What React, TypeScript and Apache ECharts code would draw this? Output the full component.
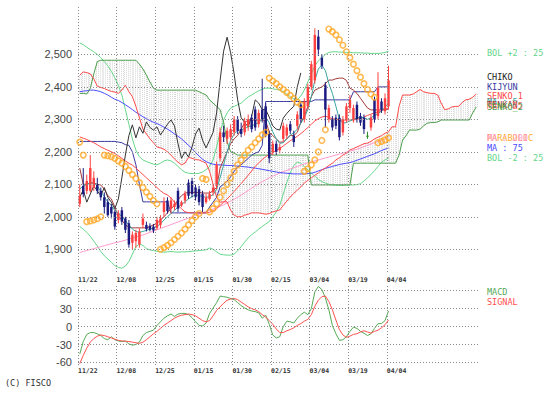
import React, { useEffect, useRef } from "react";
import * as echarts from "echarts";

const dateLabels = ["11/22", "12/08", "12/25", "01/15", "01/30", "02/15", "03/04", "03/19", "04/04"];
const dateTickIdx = [0, 11, 22, 33, 44, 55, 66, 77, 88];
const priceTicks = [1900, 2000, 2100, 2200, 2300, 2400, 2500];
const macdTicks = [-60, -30, 0, 30, 60];

const openP = [2040,2095,2080,2080,2090,2100,2080,2060,2045,2030,2015,1990,2020,1995,1980,1920,1925,1915,1975,1975,1972,1970,1965,1975,2015,2050,2025,2030,2080,2035,2050,2105,2110,2090,2085,2070,2045,2055,2075,2095,2180,2260,2240,2245,2260,2300,2270,2260,2280,2305,2330,2285,2330,2340,2255,2200,2225,2205,2240,2250,2285,2250,2280,2345,2300,2340,2400,2420,2555,2490,2405,2300,2300,2305,2305,2260,2300,2335,2300,2345,2310,2305,2250,2275,2360,2310,2355,2325,2340];
const closeP = [2065,2070,2110,2150,2120,2080,2060,2030,2005,2010,1970,2010,1985,1960,1915,1945,1950,1955,1995,1962,1960,1958,1990,1995,2045,2018,2050,2040,2025,2045,2070,2065,2070,2060,2045,2030,2060,2070,2090,2160,2260,2245,2265,2270,2300,2265,2255,2295,2300,2270,2275,2320,2300,2255,2180,2225,2200,2215,2280,2275,2265,2230,2315,2300,2355,2400,2470,2560,2515,2465,2330,2335,2275,2280,2245,2300,2340,2360,2335,2300,2290,2270,2250,2305,2300,2400,2330,2365,2420];
const lowP = [2030,2060,2070,2075,2080,2070,2050,2010,2000,1995,1960,1980,1975,1950,1905,1900,1905,1905,1965,1955,1955,1950,1960,1965,2000,2010,2010,2020,2015,2030,2040,2055,2060,2050,2035,2015,2040,2050,2065,2085,2170,2230,2225,2235,2250,2255,2245,2250,2265,2260,2265,2275,2290,2245,2165,2190,2190,2195,2230,2240,2255,2215,2270,2290,2290,2330,2390,2410,2495,2455,2275,2290,2265,2270,2235,2250,2290,2320,2290,2290,2280,2255,2240,2265,2290,2300,2320,2315,2330];
const highP = [2100,2150,2130,2190,2140,2120,2090,2075,2055,2040,2020,2020,2030,2000,1990,1955,1960,1965,2010,1985,1980,1978,2000,2005,2060,2060,2060,2050,2090,2050,2080,2115,2120,2100,2095,2080,2070,2080,2100,2170,2275,2280,2275,2285,2310,2310,2290,2305,2315,2315,2340,2330,2425,2350,2265,2235,2235,2225,2290,2285,2295,2265,2325,2355,2365,2410,2480,2580,2575,2500,2415,2345,2310,2315,2315,2310,2350,2375,2345,2355,2320,2315,2262,2315,2370,2445,2365,2380,2465];

const tenkan = [2150,2100,2100,2104,2104,2100,2098,2085,2065,2055,2030,2000,1990,1975,1968,1966,1966,1966,1966,1966,1970,1975,1980,1990,2000,2012,2025,2035,2052,2065,2073,2075,2075,2075,2075,2073,2073,2073,2080,2090,2150,2175,2200,2225,2240,2250,2270,2290,2298,2298,2298,2298,2298,2296,2260,2250,2240,2230,2230,2240,2250,2250,2260,2290,2310,2340,2370,2390,2395,2400,2410,2421,2421,2425,2427,2427,2420,2396,2390,2380,2365,2350,2335,2329,2329,2329,2329,2330,2332];
const kijun = [2232,2232,2232,2232,2232,2232,2232,2232,2232,2232,2232,2230,2228,2222,2220,2200,2160,2100,2046,2046,2046,2046,2046,2046,2046,2046,2012,2012,2012,2012,2012,2012,2012,2012,2012,2012,2012,2030,2045,2060,2092,2100,2110,2123,2140,2154,2160,2170,2180,2190,2196,2200,2220,2355,2355,2355,2355,2355,2355,2355,2355,2355,2355,2355,2355,2355,2355,2360,2360,2360,2360,2360,2360,2360,2360,2360,2360,2360,2385,2385,2385,2385,2385,2385,2385,2400,2400,2400,2400];
const senko1 = [2436,2446,2444,2440,2425,2402,2398,2395,2390,2386,2384,2380,2390,2405,2385,2370,2340,2305,2270,2255,2240,2228,2215,2212,2208,2200,2190,2178,2168,2160,2165,2183,2180,2176,2175,2170,2165,2140,2100,2060,2045,2046,2046,2020,2005,2000,2000,2005,2008,2012,2012,2012,2010,2008,2010,2015,2018,2021,2035,2048,2061,2072,2082,2092,2104,2112,2120,2128,2135,2144,2150,2158,2165,2175,2182,2190,2196,2206,2210,2215,2220,2225,2227,2232,2240,2245,2250,2257,2262,2277,2277,2340,2375,2375,2375,2378,2385,2392,2385,2382,2380,2380,2375,2350,2330,2332,2338,2340,2340,2352,2360,2362,2368,2378];
const senko2 = [2380,2380,2378,2395,2440,2478,2482,2482,2482,2482,2482,2482,2482,2482,2482,2482,2482,2470,2455,2436,2415,2396,2390,2390,2390,2390,2390,2390,2390,2390,2390,2390,2390,2390,2385,2380,2375,2360,2350,2340,2330,2290,2230,2200,2196,2190,2190,2190,2190,2190,2190,2190,2190,2190,2190,2190,2190,2190,2190,2190,2190,2190,2190,2190,2190,2190,2098,2098,2098,2098,2098,2098,2098,2098,2098,2098,2098,2098,2165,2165,2165,2165,2165,2165,2165,2165,2165,2165,2165,2165,2165,2190,2236,2250,2267,2267,2267,2270,2280,2288,2290,2290,2292,2298,2298,2298,2298,2298,2298,2298,2298,2298,2320,2338];
const chiko = [2060,2083,2045,2070,2095,2080,2065,2090,2060,2045,2025,2055,2120,2190,2250,2283,2243,2277,2257,2292,2275,2267,2277,2252,2268,2285,2298,2280,2225,2180,2200,2184,2215,2255,2273,2236,2212,2236,2260,2320,2420,2510,2553,2505,2440,2360,2305,2290,2277,2310,2360,2350,2330,2330,2307,2280,2270,2267,2304,2318,2330,2340,2400,2443];

const ma5 = [2085,2095,2100,2104,2105,2095,2078,2062,2045,2035,2020,2012,2000,1988,1975,1962,1955,1952,1955,1958,1962,1965,1970,1978,1990,2000,2010,2020,2030,2038,2046,2055,2062,2067,2066,2062,2060,2062,2068,2085,2120,2160,2200,2235,2255,2265,2268,2272,2277,2280,2285,2290,2300,2305,2290,2262,2240,2226,2228,2240,2252,2258,2270,2288,2305,2330,2370,2420,2455,2467,2450,2410,2380,2340,2300,2288,2290,2295,2300,2305,2307,2305,2300,2305,2312,2318,2325,2338,2350];
const ma25 = [2246,2242,2238,2233,2228,2222,2215,2210,2205,2200,2195,2188,2180,2172,2165,2159,2150,2140,2130,2120,2110,2100,2090,2080,2072,2067,2058,2045,2035,2025,2015,2013,2012,2012,2012,2012,2012,2014,2018,2025,2035,2045,2055,2066,2078,2090,2102,2115,2128,2141,2155,2166,2176,2185,2192,2198,2204,2210,2218,2226,2234,2241,2248,2256,2265,2275,2285,2295,2302,2307,2310,2306,2302,2300,2298,2298,2298,2298,2298,2300,2303,2307,2312,2316,2320,2323,2327,2331,2335];
const ma75 = [2385,2387,2388,2390,2390,2388,2385,2380,2375,2368,2362,2358,2352,2345,2338,2330,2322,2315,2308,2302,2296,2291,2287,2282,2276,2270,2263,2255,2248,2240,2230,2220,2210,2198,2187,2177,2170,2165,2162,2160,2160,2159,2158,2158,2157,2156,2155,2154,2153,2151,2150,2148,2146,2144,2142,2140,2138,2136,2135,2134,2133,2132,2132,2132,2132,2133,2134,2137,2141,2145,2149,2152,2155,2158,2161,2163,2165,2167,2170,2174,2178,2182,2186,2190,2194,2199,2204,2208,2212];
const ma200 = [1890,1893,1896,1899,1902,1905,1908,1911,1914,1917,1920,1922,1925,1928,1931,1935,1938,1941,1944,1948,1952,1956,1960,1964,1968,1972,1976,1980,1984,1988,1992,1996,2000,2004,2008,2012,2016,2020,2024,2028,2032,2037,2042,2048,2054,2060,2067,2074,2081,2088,2095,2102,2108,2114,2120,2125,2130,2135,2139,2143,2147,2151,2155,2159,2163,2166,2169,2172,2175,2178,2181,2184,2187,2190,2193,2196,2199,2202,2205,2208,2212,2216,2220,2224,2228,2232,2236,2240,2245];
const bolUp = [2535,2530,2522,2515,2508,2500,2490,2478,2465,2448,2428,2405,2375,2330,2285,2240,2205,2185,2175,2170,2166,2162,2160,2165,2172,2175,2172,2165,2155,2145,2137,2134,2133,2133,2134,2138,2145,2155,2175,2215,2260,2298,2320,2335,2340,2345,2350,2360,2369,2375,2382,2388,2393,2396,2396,2394,2392,2390,2385,2378,2370,2363,2360,2372,2390,2415,2440,2465,2480,2490,2500,2506,2508,2508,2507,2507,2506,2506,2505,2505,2505,2504,2504,2503,2503,2503,2504,2506,2510];
const bolDn = [1970,1962,1952,1940,1925,1910,1893,1880,1870,1860,1850,1844,1842,1848,1862,1885,1908,1916,1912,1902,1898,1896,1894,1892,1891,1892,1893,1892,1891,1892,1892,1893,1894,1895,1896,1897,1898,1904,1900,1892,1885,1883,1882,1882,1885,1895,1908,1922,1935,1945,1953,1962,1970,1978,1985,2000,2015,2035,2070,2105,2135,2158,2168,2165,2155,2145,2135,2125,2115,2108,2104,2100,2098,2098,2097,2097,2098,2098,2098,2099,2102,2110,2120,2130,2142,2155,2168,2175,2181];
const sar = [2230,2190,1985,1987,1990,1994,2000,2190,2188,2185,2180,2172,2165,2155,2143,2130,2118,2105,2090,2076,2063,2050,2040,1900,1905,1912,1920,1930,1940,1950,1962,1975,1988,2000,2010,2118,2115,2015,2025,2040,2060,2080,2100,2120,2140,2160,2175,2190,2205,2215,2228,2240,2252,2260,2427,2418,2410,2400,2392,2383,2374,2364,2353,2345,2140,2148,2160,2175,2200,2235,2268,2578,2570,2560,2545,2528,2508,2490,2470,2450,2430,2410,2392,2378,2368,2228,2232,2237,2243];

const macd = [-46,-25,-13,-10,-10,-12,-15,-20,-22,-17,-22,-24,-25,-24,-29,-31,-30,-26,-15,-10,-8,-6,2,8,14,18,21,17,21,22,22,20,15,8,2,1,6,22,31,40,51,50,49,47,45,40,35,31,28,26,25,23,14,19,4,-14,-19,-17,0,9,8,6,14,20,24,20,30,58,67,62,48,28,2,-12,-23,-22,-17,-8,-1,-3,-8,-11,-15,-12,-3,5,5,10,26];
const signal = [-62,-48,-36,-26,-20,-16,-14,-15,-17,-19,-21,-23,-24,-24.5,-25,-26,-27,-28,-26,-22,-17,-12,-8,-3,2,6,10,14,17,19,20,21,20,18,14,10,8,10,18,27,33,39,44,46,47,45,41,37,33,30,28,25,20,16,10,4,-4,-10,-10,-7,-5,-2,2,5,9,12,20,34,44,50,51,42,28,11,-5,-14,-18,-16,-13,-12,-9,-7,-9,-11,-8,-6,-2,3,11];

const pts = (arr: number[]) => arr.map((v, i) => [i + 0.5, v]);

export default function App() {
  const ref = useRef<HTMLDivElement>(null);
  useEffect(() => {
    const chart = echarts.init(ref.current!, null, { renderer: "svg" });
    const mono = "'DejaVu Sans Mono', 'Liberation Mono', monospace";
    const sans = "'Liberation Sans', Arial, sans-serif";
    const gridLine = { type: [1, 2], color: "#8a8a8a", width: 1 };
    const xFmt = (v: number) => {
      const i = dateTickIdx.indexOf(Math.round(v));
      return i >= 0 ? dateLabels[i] : "";
    };
    const line = (data: number[], color: string, gi = 0, extra: any = {}) => ({
      type: "line",
      data: pts(data),
      xAxisIndex: gi,
      yAxisIndex: gi,
      showSymbol: false,
      symbol: "none",
      silent: true,
      lineStyle: { color, width: 1 },
      z: 3,
      ...extra,
    });
    const xAxisBase = (gi: number, margin: number) => ({
      gridIndex: gi,
      type: "value",
      min: 0,
      max: 114,
      axisLine: { show: false },
      axisTick: { show: false },
      splitLine: { show: false },
      axisLabel: {
        customValues: dateTickIdx,
        formatter: xFmt,
        align: "left",
        margin,
        fontFamily: mono,
        fontSize: 6.5,
        fontWeight: "bold",
        color: "#333",
      },
    });
    const txt = (text: string, x: number, y: number, fill: string) => ({
      type: "text",
      x,
      y,
      silent: true,
      style: { text, fill, font: `8.5px ${mono}`, verticalAlign: "middle" },
    });

    const option: any = {
      animation: false,
      backgroundColor: "#ffffff",
      grid: [
        { left: 78, top: 6, width: 400, height: 266 },
        { left: 78, top: 285, width: 400, height: 80 },
      ],
      xAxis: [xAxisBase(0, 4), xAxisBase(1, 2)],
      yAxis: [
        {
          gridIndex: 0,
          type: "value",
          min: 1830,
          max: 2649,
          axisLine: { show: false },
          axisTick: { show: false },
          splitLine: { show: false },
          axisLabel: {
            customValues: priceTicks,
            formatter: (v: number) => v.toLocaleString("en-US"),
            margin: 6,
            fontFamily: sans,
            fontSize: 11,
            color: "#444",
          },
        },
        {
          gridIndex: 1,
          type: "value",
          min: -64.2,
          max: 69.5,
          axisLine: { show: false },
          axisTick: { show: false },
          splitLine: { show: false },
          axisLabel: {
            customValues: macdTicks,
            formatter: (v: number) => String(v),
            margin: 6,
            fontFamily: sans,
            fontSize: 11,
            color: "#444",
          },
        },
      ],
      series: [
        {
          type: "custom",
          xAxisIndex: 0,
          yAxisIndex: 0,
          silent: true,
          clip: true,
          z: 1,
          data: senko1.map((v, i) => [i + 0.5, v, senko2[i]]),
          encode: { x: 0, y: [1, 2] },
          renderItem: (params: any, api: any) => {
            const x = api.value(0);
            const a = api.value(1);
            const b = api.value(2);
            const children: any[] = [];
            [-0.25, 0.25].forEach((dx) => {
              const p1 = api.coord([x + dx, a]);
              const p2 = api.coord([x + dx, b]);
              const px = Math.round(p1[0]) + 0.5;
              children.push({
                type: "line",
                shape: { x1: px, y1: p1[1], x2: px, y2: p2[1] },
                style: { stroke: "#d6d6d6", lineWidth: 1, lineDash: [1, 1] },
              });
            });
            return { type: "group", children };
          },
          markLine: {
            silent: true,
            symbol: ["none", "none"],
            label: { show: false },
            lineStyle: gridLine,
            animation: false,
            data: [
              ...priceTicks.map((v) => ({ yAxis: v })),
              ...dateTickIdx.map((v) => ({ xAxis: v })),
            ],
          },
        },
        line(bolUp, "#66d68a"),
        line(bolDn, "#66d68a"),
        line(ma200, "#ff99cc"),
        line(ma75, "#4a4aff"),
        line(senko2, "#4a9e4a"),
        line(senko1, "#ff4a4a"),
        line(kijun, "#3a3aa0"),
        line(tenkan, "#a33a3a"),
        line(ma25, "#ff4a4a"),
        line(ma5, "#3aa6a0"),
        line(chiko, "#333333"),
        {
          type: "custom",
          xAxisIndex: 0,
          yAxisIndex: 0,
          silent: true,
          clip: true,
          z: 4,
          data: openP.map((o, i) => [i + 0.5, o, closeP[i], lowP[i], highP[i]]),
          encode: { x: 0, y: [1, 2, 3, 4] },
          renderItem: (params: any, api: any) => {
            const x = api.value(0);
            const o = api.value(1);
            const c = api.value(2);
            const l = api.value(3);
            const h = api.value(4);
            const pO = api.coord([x, o]);
            const pC = api.coord([x, c]);
            const pL = api.coord([x, l]);
            const pH = api.coord([x, h]);
            const w = api.size([1, 0])[0] * 0.7;
            const color = c > o ? "#ff4040" : c < o ? "#1a1a80" : "#2a8a2a";
            const top = Math.min(pO[1], pC[1]);
            const hgt = Math.max(Math.abs(pO[1] - pC[1]), 1.2);
            return {
              type: "group",
              children: [
                {
                  type: "line",
                  shape: { x1: pH[0], y1: pH[1], x2: pL[0], y2: pL[1] },
                  style: { stroke: color, lineWidth: 1 },
                },
                {
                  type: "rect",
                  shape: { x: pO[0] - w / 2, y: top, width: w, height: hgt },
                  style: { fill: color },
                },
              ],
            };
          },
        },
        {
          type: "scatter",
          xAxisIndex: 0,
          yAxisIndex: 0,
          silent: true,
          z: 5,
          data: pts(sar),
          symbol: "circle",
          symbolSize: 5.5,
          itemStyle: { color: "rgba(255,255,255,0)", borderColor: "#ffa726", borderWidth: 1.6 },
        },
        line(macd, "#55aa55", 1),
        line(signal, "#ff5050", 1, {
          markLine: {
            silent: true,
            symbol: ["none", "none"],
            label: { show: false },
            lineStyle: gridLine,
            animation: false,
            data: [
              ...macdTicks.map((v) => ({ yAxis: v })),
              ...dateTickIdx.map((v) => ({ xAxis: v })),
            ],
          },
        }),
      ],
      graphic: [
        txt("BOL +2 : 25", 487, 53, "#66d68a"),
        txt("CHIKO", 487, 77, "#222222"),
        txt("KIJYUN", 487, 87, "#3a3aa0"),
        txt("SENKO_1", 487, 96, "#ff4a4a"),
        txt("MA : 5", 487, 102, "#3aa6a0"),
        txt("TENKAN", 487, 105, "#a33a3a"),
        txt("MA : 25", 487, 106, "#ff6a6a"),
        txt("SENKO_2", 487, 107, "#4a9e4a"),
        txt("PARABOLIC", 487, 138, "#ffaa33"),
        txt("MA : 200", 487, 138, "#ff99cc"),
        txt("MA : 75", 487, 148, "#4a4aff"),
        txt("BOL -2 : 25", 487, 158, "#66d68a"),
        txt("MACD", 487, 291.5, "#55aa55"),
        txt("SIGNAL", 487, 301.5, "#ff5050"),
        txt("(C) FISCO", 5, 383, "#333333"),
      ],
    };
    chart.setOption(option);
    return () => chart.dispose();
  }, []);
  return (
    <div
      ref={ref}
      style={{ position: "fixed", left: 0, top: 0, width: 558, height: 398, background: "#fff" }}
    />
  );
}
